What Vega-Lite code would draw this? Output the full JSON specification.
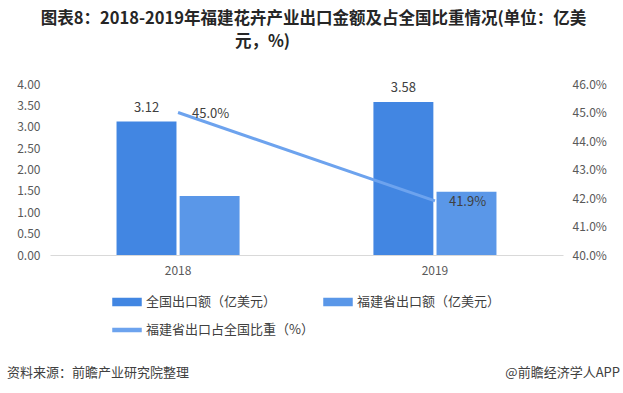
{
  "$schema": "https://vega.github.io/schema/vega-lite/v6.json",
  "background": "white",
  "padding": {"top": 11, "left": 7, "right": 3, "bottom": 5},
  "config": {
    "view": {"stroke": null},
    "font": "Noto Sans CJK SC",
    "axis": {"labelFont": "Noto Sans CJK SC", "labelFontSize": 12, "labelColor": "#595959", "ticks": false, "grid": false, "title": null},
    "legend": {"labelFont": "Noto Sans CJK SC", "layout": {"bottom": {"anchor": "middle"}}},
    "title": {"fontSize": 16.5, "fontWeight": "bold", "color": "#262626", "font": "Noto Sans CJK SC"}
  },
  "title": {
    "text": "图表8：2018-2019年福建花卉产业出口金额及占全国比重情况(单位：亿美",
    "anchor": "middle",
    "offset": 6
  },
  "spacing": 28,
  "resolve": {"legend": {"color": "independent"}},
  "vconcat": [
    {
      "title": {"text": "元，%)", "anchor": "middle", "dx": -44, "offset": 28},
      "width": 513,
      "height": 171,
      "data": {
        "values": [
          {"year": "2018", "series": "全国出口额（亿美元）", "kind": "bar", "value": 3.12, "label": "3.12"},
          {"year": "2018", "series": "福建省出口额（亿美元）", "kind": "bar", "value": 1.38, "label": ""},
          {"year": "2019", "series": "全国出口额（亿美元）", "kind": "bar", "value": 3.58, "label": "3.58"},
          {"year": "2019", "series": "福建省出口额（亿美元）", "kind": "bar", "value": 1.48, "label": ""},
          {"year": "2018", "series": "福建省出口占全国比重（%）", "kind": "line", "value": 45.0, "label": "45.0%"},
          {"year": "2019", "series": "福建省出口占全国比重（%）", "kind": "line", "value": 41.9, "label": "41.9%"}
        ]
      },
      "encoding": {
        "x": {
          "field": "year", "type": "nominal",
          "scale": {"paddingInner": 0.521, "paddingOuter": 0.259},
          "axis": {"labelAngle": 0, "domain": true, "domainColor": "#D9D9D9", "labelPadding": 10, "labelFontSize": 12}
        }
      },
      "layer": [
        {
          "transform": [{"filter": "datum.kind === 'bar'"}],
          "encoding": {
            "y": {
              "field": "value", "type": "quantitative",
              "scale": {"domain": [0, 4], "nice": false},
              "axis": {"values": [0, 0.5, 1, 1.5, 2, 2.5, 3, 3.5, 4], "format": ".2f", "domain": false, "labelPadding": 10}
            },
            "xOffset": {
              "field": "series",
              "scale": {"domain": ["全国出口额（亿美元）", "福建省出口额（亿美元）"], "paddingInner": 0.05, "paddingOuter": 0}
            }
          },
          "layer": [
            {
              "mark": {"type": "bar"},
              "encoding": {
                "color": {
                  "field": "series", "type": "nominal",
                  "scale": {
                    "domain": ["全国出口额（亿美元）", "福建省出口额（亿美元）", "福建省出口占全国比重（%）"],
                    "range": ["#4286E2", "#5A97E8", "#6DA3EE"]
                  },
                  "legend": {
                    "title": null,
                    "orient": "bottom",
                    "direction": "horizontal",
                    "columns": 2,
                    "labelFontSize": 13,
                    "labelColor": "#404040",
                    "labelLimit": 400,
                    "symbolSize": 784,
                    "labelOffset": 4,
                    "columnPadding": 7,
                    "rowPadding": 6,
                    "offset": 11,
                    "encode": {
                      "symbols": {
                        "update": {
                          "shape": {"signal": "datum.value === '福建省出口占全国比重（%）' ? 'M-1,-0.1L1,-0.1L1,0.1L-1,0.1Z' : 'M-1,-0.25L1,-0.25L1,0.25L-1,0.25Z'"},
                          "fill": {"scale": "color", "field": "value"},
                          "stroke": {"value": null},
                          "opacity": {"value": 1},
                          "fillOpacity": {"value": 1}
                        }
                      }
                    }
                  }
                }
              }
            },
            {
              "transform": [{"filter": "datum.label !== ''"}],
              "mark": {"type": "text", "baseline": "bottom", "dy": -7, "fontSize": 13, "color": "#404040"},
              "encoding": {"text": {"field": "label"}}
            }
          ]
        },
        {
          "transform": [{"filter": "datum.kind === 'line'"}],
          "encoding": {
            "y": {
              "field": "value", "type": "quantitative",
              "scale": {"domain": [40, 46], "nice": false},
              "axis": {"orient": "right", "values": [40, 41, 42, 43, 44, 45, 46], "labelExpr": "format(datum.value, '.1f') + '%'", "domain": false, "labelPadding": 9}
            }
          },
          "layer": [
            {
              "mark": {"type": "line", "strokeWidth": 3},
              "encoding": {
                "color": {
                  "field": "series", "type": "nominal",
                  "scale": {
                    "domain": ["全国出口额（亿美元）", "福建省出口额（亿美元）", "福建省出口占全国比重（%）"],
                    "range": ["#4286E2", "#5A97E8", "#6DA3EE"]
                  }
                }
              }
            },
            {
              "mark": {"type": "text", "align": "left", "baseline": "middle", "dx": 14, "dy": 1, "fontSize": 13, "color": "#404040"},
              "encoding": {"text": {"field": "label"}}
            }
          ]
        }
      ],
      "resolve": {"scale": {"y": "independent"}}
    },
    {
      "width": 570,
      "height": 16,
      "data": {
        "values": [
          {"text": "资料来源：前瞻产业研究院整理", "pos": 0, "side": "left"},
          {"text": "@前瞻经济学人APP", "pos": 1, "side": "right"}
        ]
      },
      "encoding": {
        "x": {"field": "pos", "type": "quantitative", "scale": {"domain": [0, 1]}, "axis": null},
        "text": {"field": "text"}
      },
      "layer": [
        {
          "transform": [{"filter": "datum.side === 'left'"}],
          "mark": {"type": "text", "align": "left", "baseline": "middle", "dx": -43, "fontSize": 13, "color": "#404040"}
        },
        {
          "transform": [{"filter": "datum.side === 'right'"}],
          "mark": {"type": "text", "align": "right", "baseline": "middle", "fontSize": 13, "color": "#404040"}
        }
      ]
    }
  ]
}
